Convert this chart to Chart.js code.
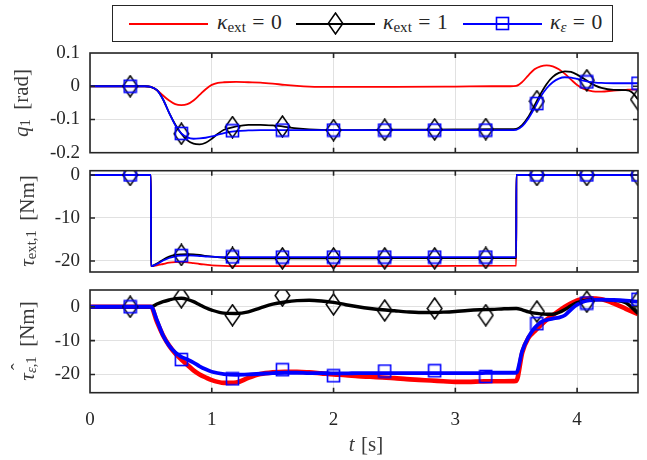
<!DOCTYPE html>
<html>
<head>
<meta charset="utf-8">
<script src="https://cdn.jsdelivr.net/npm/chart.js@4.4.1/dist/chart.umd.min.js"></script>
<style>
html,body{margin:0;padding:0;background:#fff;}
#wrap{position:relative;width:647px;height:460px;overflow:hidden;background:#fff;font-family:"Liberation Serif","DejaVu Serif",serif;color:#262626;}
#wrap canvas.chart{position:absolute;left:0;}
.ytitle{position:absolute;white-space:nowrap;font-size:21px;line-height:1;color:#3a3a3a;transform:translate(-50%,-50%) rotate(-90deg);}
.xtitle{position:absolute;white-space:nowrap;font-size:21px;line-height:1;color:#3a3a3a;transform:translate(-50%,-50%);}
sub{font-size:0.7em;vertical-align:-0.2em;line-height:0;}
.hat{position:relative;display:inline-block;}
.hat b{position:absolute;left:0.5em;top:-0.38em;font-weight:normal;font-style:normal;}
#legend{position:absolute;left:112px;top:5px;width:501px;height:37px;box-sizing:border-box;border:1.5px solid #262626;background:#fff;}
.lline{position:absolute;height:2px;top:17px;}
.ltext{position:absolute;top:6px;font-size:20px;line-height:20px;white-space:nowrap;transform:scaleX(1.08);transform-origin:left center;color:#262626;}
.eq{margin:0 0.3em;}
.lmark{position:absolute;}
</style>
</head>
<body>
<div id="wrap">
  <canvas class="chart" id="c1" width="647" height="150" style="top:28px"></canvas>
  <canvas class="chart" id="c2" width="647" height="152" style="top:145px"></canvas>
  <canvas class="chart" id="c3" width="647" height="196" style="top:264px"></canvas>

  <div id="legend">
    <div class="lline" style="left:16px;width:79px;background:#ff0000"></div>
    <span class="ltext" style="left:104px"><i>κ</i><sub>ext</sub><span class="eq">=</span>0</span>
    <div class="lline" style="left:183px;width:79px;background:#000000"></div>
    <span class="ltext" style="left:270px"><i>κ</i><sub>ext</sub><span class="eq">=</span>1</span>
    <div class="lline" style="left:350px;width:79px;background:#0000ff"></div>
    <span class="ltext" style="left:437px"><i>κ</i><sub><i>ε</i></sub><span class="eq">=</span>0</span>
  </div>

  <div class="ytitle" style="left:21px;top:103px"><i>q</i><sub>1</sub><span style="margin-left:0.45em">[rad]</span></div>
  <div class="ytitle" style="left:27px;top:221px"><i>τ</i><sub>ext,1</sub><span style="margin-left:0.45em">[Nm]</span></div>
  <div class="ytitle" style="left:27px;top:341px"><span class="hat"><i>τ</i><b>ˆ</b></span><sub><i>ε</i>,1</sub><span style="margin-left:0.45em">[Nm]</span></div>
  <div class="xtitle" style="left:366px;top:444px"><i>t</i><span style="margin-left:0.3em">[s]</span></div>
</div>

<script>
// ---------------- DATA ----------------
const xTicks = [0, 1, 2, 3, 4];
const xTickLabels = ['0', '1', '2', '3', '4'];
const markerT = [0.33, 0.75, 1.17, 1.58, 2.0, 2.42, 2.83, 3.25, 3.67, 4.08, 4.5];

// Panel 1: q1 [rad]
const q1Ticks = [0.1, 0, -0.1, -0.2];
const q1TickLabels = ['0.1', '0', '-0.1', '-0.2'];
const t1 = [0, 0.45, 0.5, 0.55, 0.6, 0.65, 0.7, 0.75, 0.8, 0.85,
            0.9, 0.95, 1.0, 1.05, 1.1, 1.2, 1.3, 1.4, 1.5, 1.6,
            1.7, 1.8, 2.0, 2.2, 2.5, 3.0, 3.3, 3.45, 3.5, 3.55,
            3.6, 3.65, 3.7, 3.75, 3.8, 3.85, 3.9, 3.95, 4.0, 4.05,
            4.1, 4.15, 4.2, 4.3, 4.4, 4.45, 4.5];
const q1Red = [0, 0, -0.002, -0.012, -0.028, -0.043, -0.054, -0.057, -0.054, -0.043,
               -0.026, -0.009, 0.004, 0.010, 0.012, 0.013, 0.012, 0.011, 0.008, 0.004,
               0.001, -0.001, -0.002, -0.002, -0.002, -0.001, 0, 0, 0.001, 0.013,
               0.033, 0.051, 0.060, 0.063, 0.060, 0.051, 0.037, 0.020, 0.004, -0.007,
               -0.013, -0.016, -0.016, -0.013, -0.011, -0.010, -0.010];
const q1Black = [0, 0, -0.002, -0.012, -0.040, -0.080, -0.115, -0.143, -0.163, -0.173,
                 -0.175, -0.170, -0.158, -0.143, -0.131, -0.121, -0.116, -0.116, -0.118, -0.122,
                 -0.127, -0.130, -0.132, -0.132, -0.131, -0.130, -0.129, -0.129, -0.128, -0.116,
                 -0.092, -0.058, -0.023, 0.007, 0.028, 0.040, 0.045, 0.043, 0.035, 0.024,
                 0.012, 0.002, -0.005, -0.011, -0.012, -0.018, -0.040];
const q1Blue = [0, 0, -0.002, -0.012, -0.040, -0.080, -0.117, -0.142, -0.154, -0.158,
                -0.157, -0.155, -0.151, -0.146, -0.141, -0.135, -0.133, -0.132, -0.132, -0.132,
                -0.132, -0.132, -0.132, -0.132, -0.132, -0.132, -0.132, -0.132, -0.131, -0.120,
                -0.097, -0.066, -0.032, -0.006, 0.012, 0.023, 0.027, 0.026, 0.022, 0.017,
                0.013, 0.011, 0.010, 0.009, 0.009, 0.009, 0.009];
const q1BlackMarks = [0, -0.143, -0.123, -0.121, -0.132, -0.131, -0.130, -0.129, -0.045, 0.018, -0.040];
const q1BlueMarks  = [0, -0.142, -0.134, -0.132, -0.132, -0.132, -0.132, -0.132, -0.052, 0.013, 0.009];

// Panel 2: tau_ext,1 [Nm]
const tauTicks = [0, -10, -20];
const tauTickLabels = ['0', '-10', '-20'];
const t2 = [0, 0.5, 0.501, 0.55, 0.6, 0.65, 0.7, 0.75, 0.8, 0.85,
            0.9, 0.95, 1.0, 1.1, 1.2, 1.3, 1.5, 2.0, 2.5, 3.0,
            3.5, 3.501, 4.0, 4.5];
const tauRed = [0, 0, -21.2, -21.0, -20.7, -20.4, -20.25, -20.2, -20.3, -20.5,
                -20.7, -20.85, -21.0, -21.15, -21.2, -21.2, -21.2, -21.2, -21.2, -21.15,
                -21.1, 0, 0, 0];
const tauBlack = [0, 0, -21.2, -20.6, -19.7, -19.0, -18.6, -18.45, -18.4, -18.45,
                  -18.6, -18.8, -19.0, -19.25, -19.4, -19.4, -19.4, -19.4, -19.35, -19.3,
                  -19.3, 0, 0, 0];
const tauBlue = [0, 0, -21.2, -20.7, -19.9, -19.3, -18.9, -18.75, -18.7, -18.75,
                 -18.85, -18.95, -19.0, -19.1, -19.1, -19.1, -19.1, -19.1, -19.1, -19.1,
                 -19.1, 0, 0, 0];
const tauBlackMarks = [0, -18.6, -19.3, -19.4, -19.4, -19.4, -19.4, -19.3, 0, 0, 0];
const tauBlueMarks  = [0, -18.75, -19.05, -19.1, -19.1, -19.1, -19.1, -19.1, 0, 0, 0];

// Panel 3: estimated tau_eps,1 [Nm]
const epsTicks = [0, -10, -20];
const epsTickLabels = ['0', '-10', '-20'];
const t3 = [0, 0.5, 0.55, 0.6, 0.65, 0.7, 0.75, 0.8, 0.85, 0.9,
            0.95, 1.0, 1.1, 1.2, 1.3, 1.4, 1.5, 1.6, 1.7, 1.8,
            1.9, 2.0, 2.1, 2.2, 2.3, 2.4, 2.5, 2.6, 2.7, 2.8,
            2.9, 3.0, 3.1, 3.2, 3.3, 3.4, 3.5, 3.55, 3.6, 3.65,
            3.7, 3.75, 3.8, 3.85, 3.9, 3.95, 4.0, 4.05, 4.1, 4.2,
            4.3, 4.4, 4.5];
const epsRed = [0, 0, -4.5, -8.5, -11.5, -13.8, -15.6, -17.2, -18.8, -20.0,
                -20.9, -21.7, -22.5, -22.4, -21.0, -19.9, -19.4, -19.2, -19.2, -19.4,
                -19.7, -20.0, -20.2, -20.5, -20.7, -20.9, -21.1, -21.4, -21.6, -21.8,
                -22.0, -22.2, -22.2, -22.1, -22.0, -22.0, -21.9, -13.5, -9.2, -7.3,
                -5.5, -3.8, -2.5, -1.2, 0.0, 1.0, 1.9, 2.3, 2.5, 2.2,
                1.0, -0.6, -2.2];
const epsBlack = [0, 0, 0.8, 1.5, 2.0, 2.4, 2.5, 2.2, 1.5, 0.6,
                  -0.3, -1.0, -1.9, -2.0, -1.5, -0.3, 0.8, 1.4, 1.8, 1.9,
                  1.7, 1.3, 0.6, 0.0, -0.5, -0.9, -1.2, -1.5, -1.7, -1.7,
                  -1.6, -1.4, -1.1, -0.9, -0.8, -0.6, -0.5, -0.9, -1.5, -1.9,
                  -2.1, -2.2, -2.2, -1.7, -0.8, 0.3, 1.2, 1.7, 2.0, 2.1,
                  1.9, 1.2, -2.0];
const epsBlue = [0, 0, -4.0, -8.5, -11.5, -13.5, -14.8, -15.6, -16.5, -17.6,
                 -18.5, -19.2, -19.9, -20.1, -20.0, -19.8, -19.6, -19.5, -19.5, -19.6,
                 -19.6, -19.7, -19.7, -19.6, -19.6, -19.6, -19.6, -19.6, -19.6, -19.6,
                 -19.6, -19.6, -19.6, -19.6, -19.5, -19.5, -19.5, -13.0, -9.0, -6.3,
                 -4.6, -3.9, -3.5, -3.2, -2.5, -0.8, 0.6, 1.5, 1.9, 2.1,
                 2.0, 1.8, 1.5];
const epsBlackMarks = [0, 2.8, -2.5, 3.3, 0.7, -1.1, -0.5, -2.5, -1.4, 1.5, 1.5];
const epsBlueMarks  = [0, -15.6, -21.3, -18.6, -20.4, -19.0, -18.9, -20.6, -5.0, 1.1, 2.2];

// ---------------- STYLE ----------------
const RED = '#ff0000', BLACK = '#000000', BLUE = '#0000ff';
const AXIS = '#262626', GRID = '#e1e1e1';
const FONT = "'Liberation Serif','DejaVu Serif',serif";

function diamondImg(){
  const c = document.createElement('canvas'); c.width = 17; c.height = 23;
  const g = c.getContext('2d'); g.strokeStyle = BLACK; g.lineWidth = 1.5;
  g.beginPath(); g.moveTo(8.5, 1); g.lineTo(15.8, 11.5); g.lineTo(8.5, 22); g.lineTo(1.2, 11.5); g.closePath(); g.stroke();
  return c;
}
function squareImg(){
  const c = document.createElement('canvas'); c.width = 15; c.height = 15;
  const g = c.getContext('2d'); g.strokeStyle = BLUE; g.lineWidth = 1.6;
  g.strokeRect(1.5, 1.5, 12, 12);
  return c;
}
const DIAMOND = diamondImg(), SQUARE = squareImg();

function pts(xs, ys){ return xs.map((x, i) => ({x: x, y: ys[i]})); }

function lineDs(xs, ys, color, width, order){
  return {data: pts(xs, ys), borderColor: color, backgroundColor: color, borderWidth: width,
          pointRadius: 0, cubicInterpolationMode: 'monotone', fill: false, order: order, clip: 0};
}
function markDs(ys, img, order){
  return {data: pts(markerT, ys), showLine: false, pointStyle: img, pointRadius: 8,
          borderColor: 'rgba(0,0,0,0)', backgroundColor: 'rgba(0,0,0,0)', order: order, clip: 0};
}

const framePlugin = {
  id: 'frame',
  afterDraw(chart){
    const {ctx, chartArea: a, scales} = chart;
    ctx.save();
    ctx.strokeStyle = AXIS; ctx.lineWidth = 1.6;
    const tl = 5;
    ctx.beginPath();
    scales.x.ticks.forEach(t => {
      const px = scales.x.getPixelForValue(t.value);
      if (px <= a.left + 1 || px >= a.right - 1) return;
      ctx.moveTo(px, a.bottom); ctx.lineTo(px, a.bottom - tl);
      ctx.moveTo(px, a.top); ctx.lineTo(px, a.top + tl);
    });
    scales.y.ticks.forEach(t => {
      const py = scales.y.getPixelForValue(t.value);
      if (py <= a.top + 1 || py >= a.bottom - 1) return;
      ctx.moveTo(a.left, py); ctx.lineTo(a.left + tl, py);
      ctx.moveTo(a.right, py); ctx.lineTo(a.right - tl, py);
    });
    ctx.stroke();
    ctx.strokeRect(a.left, a.top, a.right - a.left, a.bottom - a.top);
    ctx.restore();
  }
};

function buildChart(id, datasets, yMin, yMax, yTicks, yLabels, showX, padding){
  return new Chart(document.getElementById(id), {
    type: 'line',
    data: {datasets: datasets},
    options: {
      responsive: false, animation: false, devicePixelRatio: 1, events: [],
      layout: {padding: padding},
      plugins: {legend: {display: false}, tooltip: {enabled: false}},
      scales: {
        x: {
          type: 'linear', min: 0, max: 4.5,
          afterBuildTicks: s => { s.ticks = xTicks.map(v => ({value: v})); },
          afterFit: s => { s.height = showX ? 40 : 0; },
          grid: {color: GRID, lineWidth: 1, drawTicks: false},
          border: {display: false},
          ticks: {display: showX, padding: 16, maxRotation: 0, color: AXIS,
                  font: {family: FONT, size: 19},
                  callback: v => xTickLabels[xTicks.indexOf(v)]}
        },
        y: {
          type: 'linear', min: yMin, max: yMax,
          afterBuildTicks: s => { s.ticks = yTicks.map(v => ({value: v})); },
          afterFit: s => { s.width = 90; },
          grid: {color: GRID, lineWidth: 1, drawTicks: false},
          border: {display: false},
          ticks: {padding: 10, color: AXIS, font: {family: FONT, size: 19},
                  callback: v => yLabels[yTicks.indexOf(v)]}
        }
      }
    },
    plugins: [framePlugin]
  });
}

buildChart('c1', [
  markDs(q1BlueMarks, SQUARE, 1),
  markDs(q1BlackMarks, DIAMOND, 2),
  lineDs(t1, q1Blue, BLUE, 1.8, 3),
  lineDs(t1, q1Black, BLACK, 1.8, 4),
  lineDs(t1, q1Red, RED, 1.8, 5)
], -0.2, 0.1, q1Ticks, q1TickLabels, false, {top: 25, bottom: 25.3, left: 0, right: 1.3});

buildChart('c2', [
  markDs(tauBlueMarks, SQUARE, 1),
  markDs(tauBlackMarks, DIAMOND, 2),
  lineDs(t2, tauBlue, BLUE, 1.8, 3),
  lineDs(t2, tauBlack, BLACK, 1.8, 4),
  lineDs(t2, tauRed, RED, 1.8, 5)
], -22.56, 1.0, tauTicks, tauTickLabels, false, {top: 25.7, bottom: 25, left: 0, right: 1.3});

buildChart('c3', [
  markDs(epsBlueMarks, SQUARE, 1),
  markDs(epsBlackMarks, DIAMOND, 2),
  lineDs(t3, epsBlue, BLUE, 3.8, 3),
  lineDs(t3, epsBlack, BLACK, 3.4, 4),
  lineDs(t3, epsRed, RED, 4.6, 5)
], -25.4, 4.95, epsTicks, epsTickLabels, true, {top: 26, bottom: 27.3, left: 0, right: 1.3});

// legend markers (same glyphs as the plot markers)
(function(){
  const lg = document.getElementById('legend');
  const d = diamondImg(); d.className = 'lmark'; d.style.left = (335.5 - 112 - 1.5 - 8.5) + 'px'; d.style.top = (23.7 - 5 - 1.5 - 11.5) + 'px';
  const s = squareImg(); s.className = 'lmark'; s.style.left = (502.5 - 112 - 1.5 - 7.5) + 'px'; s.style.top = (23.7 - 5 - 1.5 - 7.5) + 'px';
  lg.appendChild(d); lg.appendChild(s);
})();
</script>
</body>
</html>
